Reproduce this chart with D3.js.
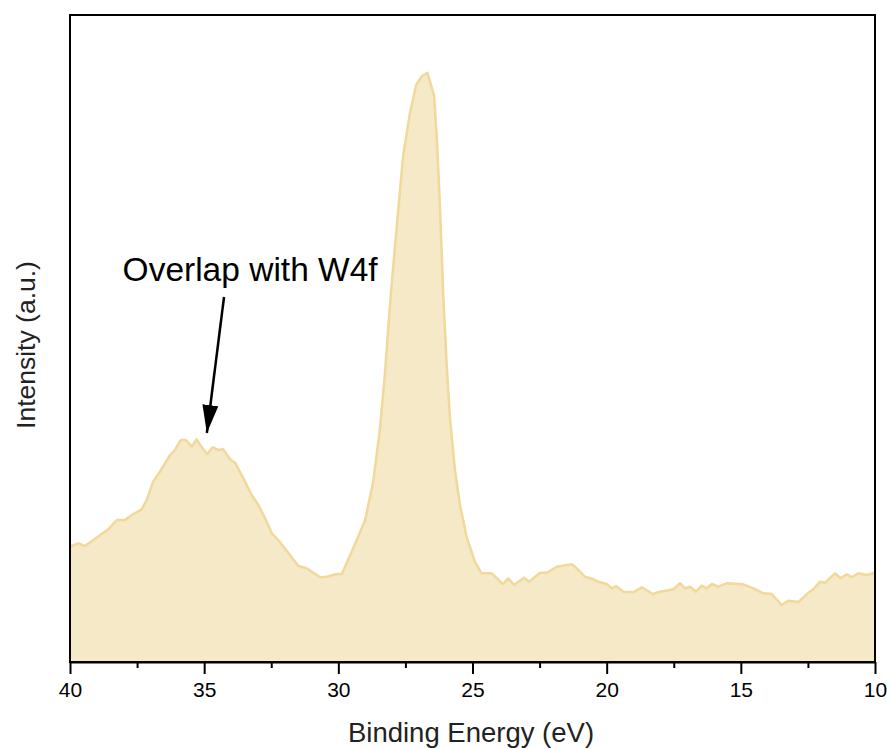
<!DOCTYPE html>
<html>
<head>
<meta charset="utf-8">
<script src="https://cdn.jsdelivr.net/npm/d3@7"></script>
<style>
  html, body { margin: 0; padding: 0; background: #fff; }
  svg { display: block; font-family: "Liberation Sans", Arial, sans-serif; }
</style>
</head>
<body>
<svg id="chart" width="887" height="749"></svg>
<script>
// Binding energy (eV) and intensity (a.u.)
const energy = [40.0, 39.94, 39.69, 39.44, 39.13, 38.82, 38.57, 38.26, 37.95, 37.70, 37.33, 37.14, 36.90, 36.65, 36.27, 36.09, 35.87, 35.68, 35.46, 35.28, 35.09, 34.88, 34.68, 34.47, 34.29, 34.04, 33.85, 33.54, 33.23, 32.98, 32.73, 32.48, 32.24, 31.80, 31.49, 31.18, 30.68, 30.43, 30.06, 29.87, 29.44, 29.00, 28.70, 28.45, 28.26, 28.07, 27.82, 27.58, 27.33, 27.10, 26.89, 26.68, 26.43, 26.33, 26.21, 26.09, 25.96, 25.84, 25.65, 25.46, 25.21, 24.91, 24.66, 24.28, 23.87, 23.67, 23.45, 23.08, 22.89, 22.48, 22.23, 21.86, 21.30, 21.18, 20.81, 20.50, 20.25, 20.00, 19.81, 19.65, 19.38, 19.01, 18.69, 18.28, 18.01, 17.51, 17.26, 17.08, 16.89, 16.67, 16.46, 16.27, 16.08, 15.84, 15.53, 14.91, 14.53, 14.16, 13.85, 13.48, 13.23, 12.85, 12.48, 12.30, 12.05, 11.86, 11.49, 11.28, 11.05, 10.87, 10.62, 10.31, 10.06, 10.0];
const intensity = [115, 116, 118.7, 116, 122, 128, 132.7, 142, 142, 147, 152.7, 162, 180.3, 190.3, 207, 212, 222, 222, 215.3, 222.7, 214.7, 208, 214.7, 212, 212.7, 202.7, 199.3, 183.7, 167, 157, 143.7, 128.7, 122, 107, 96, 93.7, 84.7, 85.3, 88, 88, 114, 142, 180.4, 233, 289, 359.4, 436.6, 507, 549, 577, 585.7, 589.2, 566.4, 524.3, 454, 366.4, 296.2, 243.6, 191, 156, 124.3, 100, 88.7, 88.7, 78, 83.7, 77, 84.3, 80.3, 89.3, 89.3, 95.3, 97.7, 95.3, 85.3, 82.7, 79.7, 78, 73.7, 76, 70.3, 69.7, 74.7, 68, 70.3, 72.7, 78.7, 73.7, 75.3, 70.3, 76.3, 73.7, 78, 75.3, 78.7, 77.7, 73.7, 68.7, 68, 57, 61.3, 60, 69.3, 72.7, 80.3, 79.3, 88.7, 83.7, 87.7, 84.7, 88.7, 87, 88.7, 88.5];

const xMajorTicks = [40, 35, 30, 25, 20, 15, 10];
const xMinorTicks = [37.5, 32.5, 27.5, 22.5, 17.5, 12.5];
const xDomain = [40, 10];
const yDomain = [0, 647];

const annotationText = ["Overlap with W4f"];
const annotationTextPos = [[38.04, 381]];          // [energy, intensity] of text start/baseline
const annotationArrow = [[34.26, 365], [34.90, 229]]; // from -> to

const xAxisTitle = "Binding Energy (eV)";
const yAxisTitle = "Intensity (a.u.)";

const data = energy.map((e, i) => ({ e, v: intensity[i] }));

const svg = d3.select("#chart");
const L = 70, R = 875, T = 15, B = 662;

const x = d3.scaleLinear().domain(xDomain).range([L, R]);
const y = d3.scaleLinear().domain(yDomain).range([B, T]);

const defs = svg.append("defs");
defs.append("clipPath").attr("id", "clip")
  .append("rect").attr("x", L).attr("y", T).attr("width", R - L).attr("height", B - T);
defs.append("marker").attr("id", "arrowhead")
  .attr("viewBox", "0 0 28 16").attr("refX", 28).attr("refY", 8)
  .attr("markerWidth", 28).attr("markerHeight", 16)
  .attr("markerUnits", "userSpaceOnUse")
  .attr("orient", "auto")
  .append("path").attr("d", "M0,0 L28,8 L0,16 Z").attr("fill", "#000");

const area = d3.area().x(d => x(d.e)).y0(y(0)).y1(d => y(d.v));
const line = d3.line().x(d => x(d.e)).y(d => y(d.v));

const g = svg.append("g").attr("clip-path", "url(#clip)");
g.append("path").datum(data).attr("d", area).attr("fill", "#f6e9c7");
g.append("path").datum(data).attr("d", line)
  .attr("fill", "none").attr("stroke", "#f1d89b").attr("stroke-width", 2.5)
  .attr("stroke-linejoin", "round");

// frame
svg.append("rect").attr("x", L).attr("y", T).attr("width", R - L).attr("height", B - T)
  .attr("fill", "none").attr("stroke", "#000").attr("stroke-width", 2);

// x axis
const xAxis = d3.axisBottom(x).tickValues(xMajorTicks).tickSize(12).tickSizeOuter(0).tickPadding(8)
  .tickFormat(d3.format("d"));
const ax = svg.append("g").attr("transform", `translate(0,${B})`).call(xAxis);
ax.select(".domain").attr("stroke", "#000").attr("stroke-width", 2);
ax.selectAll(".tick line").attr("stroke", "#000").attr("stroke-width", 2);
ax.selectAll(".tick text").attr("font-size", 21).attr("fill", "#000")
  .attr("font-family", "'Liberation Sans', Arial, sans-serif");

const axMinor = d3.axisBottom(x).tickValues(xMinorTicks).tickSize(6).tickFormat("");
const am = svg.append("g").attr("transform", `translate(0,${B})`).call(axMinor);
am.select(".domain").remove();
am.selectAll(".tick line").attr("stroke", "#000").attr("stroke-width", 2);

// axis titles
svg.append("text").attr("x", 471).attr("y", 742).attr("text-anchor", "middle")
  .attr("font-size", 27.5).attr("fill", "#222").text(xAxisTitle);
svg.append("text").attr("transform", `translate(35,345) rotate(-90)`)
  .attr("text-anchor", "middle").attr("font-size", 26.5).attr("fill", "#222").text(yAxisTitle);

// annotation
svg.append("text").attr("x", x(annotationTextPos[0][0])).attr("y", y(annotationTextPos[0][1]))
  .attr("font-size", 33.5).attr("fill", "#000").text(annotationText[0]);
svg.append("line")
  .attr("x1", x(annotationArrow[0][0])).attr("y1", y(annotationArrow[0][1]))
  .attr("x2", x(annotationArrow[1][0])).attr("y2", y(annotationArrow[1][1]))
  .attr("stroke", "#000").attr("stroke-width", 2.5)
  .attr("marker-end", "url(#arrowhead)");
</script>
</body>
</html>
